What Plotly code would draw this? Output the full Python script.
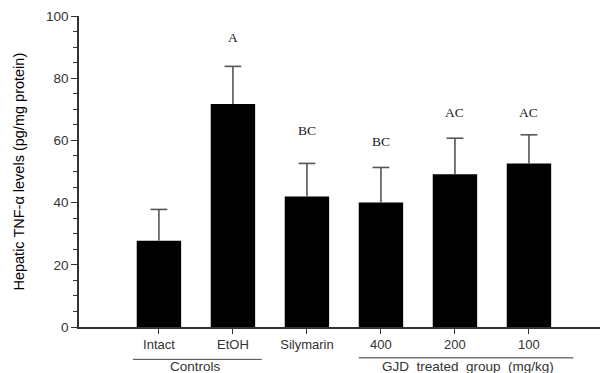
import plotly.graph_objects as go

categories = ["Intact", "EtOH", "Silymarin", "400", "200", "100"]
means = [27.7, 71.7, 42.0, 40.0, 49.1, 52.6]
errors = [10.1, 12.1, 10.6, 11.3, 11.6, 9.2]
letters = ["", "A", "BC", "BC", "AC", "AC"]
letter_offsets = [0, 9.2, 10.7, 8.5, 8.4, 7.3]
y_ticks = [0, 20, 40, 60, 80, 100]

x = list(range(len(categories)))
tops = [m + e for m, e in zip(means, errors)]

fig = go.Figure()
fig.add_trace(go.Bar(
    x=x, y=means, width=0.6,
    marker=dict(color="black", line=dict(width=0)),
))
# upper error bars: stems + caps
fig.add_trace(go.Scatter(
    x=x, y=tops, mode="markers",
    marker=dict(symbol="line-ew", size=12, line=dict(color="#555555", width=1.6)),
    error_y=dict(type="data", array=[0]*len(errors), arrayminus=errors,
                 symmetric=False, color="#555555", thickness=1.6, width=0),
))

for i, (lab, t, off) in enumerate(zip(letters, tops, letter_offsets)):
    if lab:
        fig.add_annotation(x=i, y=t + off, text=lab, showarrow=False,
                           font=dict(family="Liberation Serif", size=13.5, color="#222"),
                           xanchor="center", yanchor="middle")

# group labels
fig.add_shape(type="line", xref="x", yref="paper", x0=-0.35, x1=1.39, y0=-0.104, y1=-0.104,
              line=dict(color="#444", width=1))
fig.add_annotation(xref="x", yref="paper", x=0.5, y=-0.156, text="Controls", showarrow=False,
                   font=dict(family="Liberation Sans", size=13.5, color="#333"),
                   xanchor="center", yanchor="bottom")
fig.add_shape(type="line", xref="x", yref="paper", x0=2.7, x1=5.6, y0=-0.099, y1=-0.099,
              line=dict(color="#777", width=1.5))
fig.add_annotation(xref="x", yref="paper", x=4.18, y=-0.156,
                   text="GJD  treated  group  (mg/kg)", showarrow=False,
                   font=dict(family="Liberation Sans", size=13.5, color="#333"),
                   xanchor="center", yanchor="bottom")

fig.add_annotation(xref="paper", yref="paper", x=-0.117, y=0.5,
                   text="Hepatic TNF-α levels (pg/mg protein)", textangle=-90,
                   showarrow=False, font=dict(family="Liberation Sans", size=14.5, color="black"),
                   xanchor="center", yanchor="middle")

fig.update_layout(
    width=603, height=373,
    margin=dict(l=79, r=3, t=16, b=46),
    plot_bgcolor="white", paper_bgcolor="white",
    showlegend=False,
    xaxis=dict(range=[-1.08, 5.96], tickmode="array", tickvals=x, ticktext=categories,
               showline=True, linecolor="#333", linewidth=1.5, ticks="outside",
               ticklen=5, tickcolor="#333", showgrid=False, zeroline=False,
               tickfont=dict(family="Liberation Sans", size=13, color="#333")),
    yaxis=dict(range=[0, 100], tickvals=y_ticks, showline=True, linecolor="#333",
               linewidth=1.5, ticks="outside", ticklen=6, tickcolor="#333",
               showgrid=False, zeroline=False,
               minor=dict(dtick=5, ticks="outside", ticklen=4, tickcolor="#333"),
               tickfont=dict(family="Liberation Sans", size=13.5, color="#333")),
)

fig.write_html("out.html", config={"displayModeBar": False},
               post_script="document.body.style.margin='0';document.body.style.overflow='hidden';")
